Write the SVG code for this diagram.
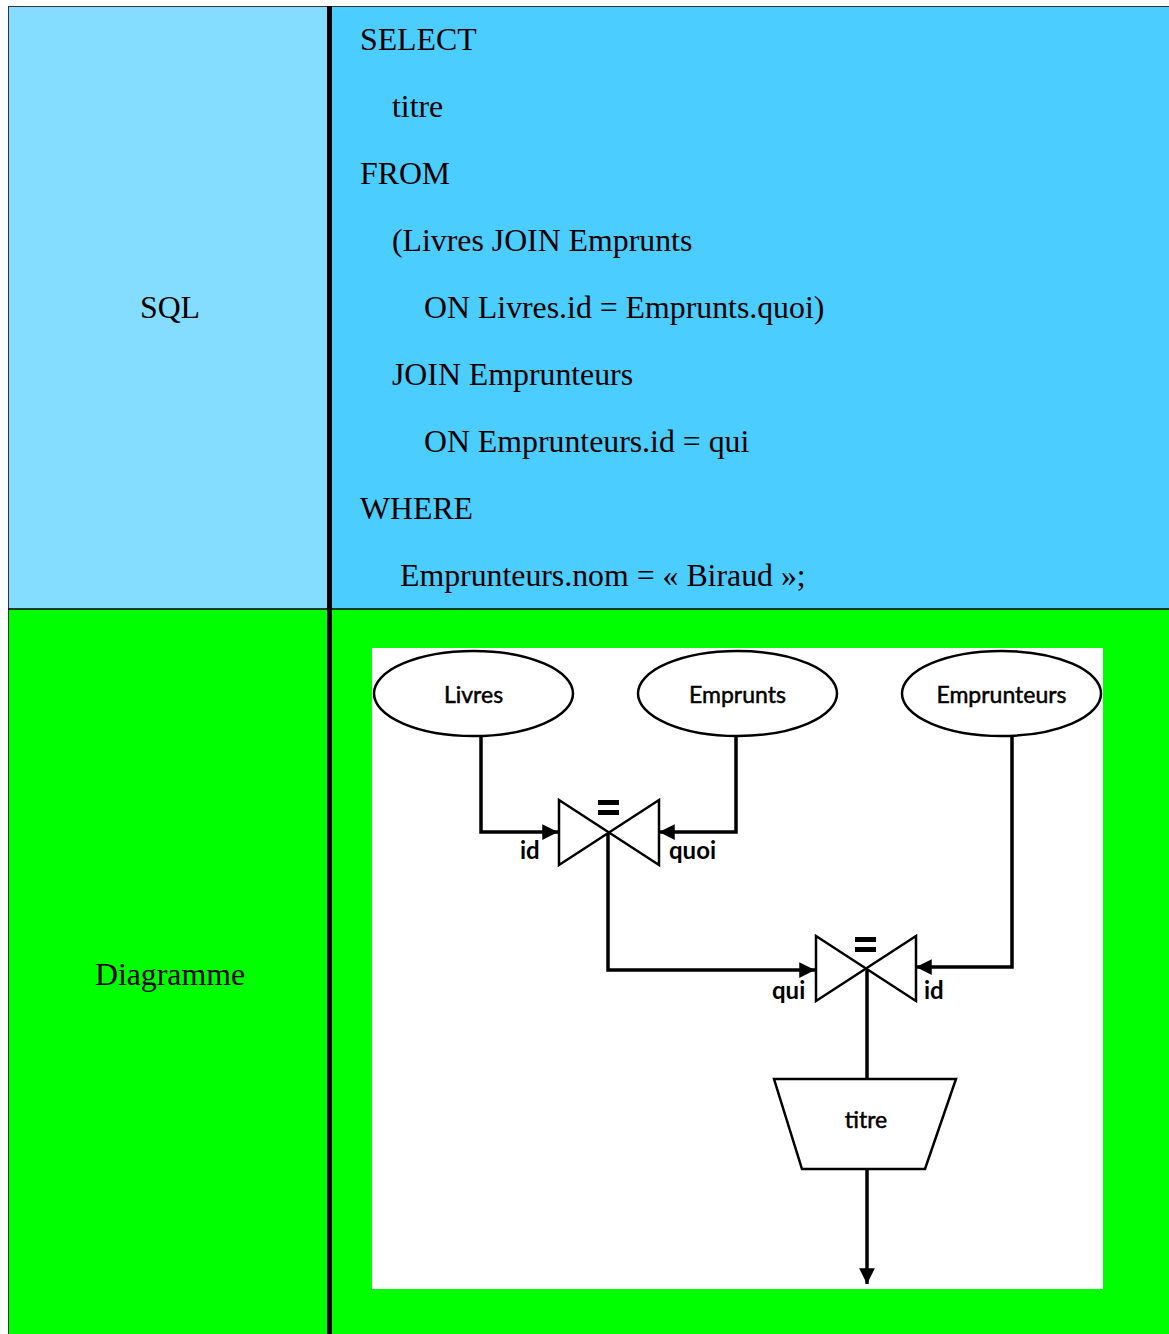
<svg xmlns="http://www.w3.org/2000/svg" width="1169" height="1334" viewBox="0 0 1169 1334">
  <style>
    .sql { font-family: "Liberation Serif", "Times New Roman", serif; font-size: 31.8px; fill: #000; }
    .lbl { font-family: Lato, "Open Sans", sans-serif; font-size: 23px; fill: #000; stroke: #000; stroke-width: 0.5; text-anchor: middle; }
    .port { font-family: Lato, "Open Sans", sans-serif; font-size: 24px; font-weight: bold; fill: #000; }
    .shape { fill: #fff; stroke: #000; stroke-width: 2.5; }
    .wire { fill: none; stroke: #000; stroke-width: 3.5; }
  </style>
  <defs>
    <marker id="arrow" viewBox="0 0 10 10" refX="10" refY="5" markerWidth="4.5" markerHeight="4.5" orient="auto" markerUnits="strokeWidth">
      <path d="M0,0 L10,5 L0,10 z" fill="#000"/>
    </marker>
  </defs>

  <!-- table cells -->
  <g id="table">
    <rect x="8" y="6" width="321" height="603" fill="#84DDFF"/>
    <rect x="329" y="6" width="840" height="603" fill="#4BCDFF"/>
    <rect x="8" y="609" width="321" height="725" fill="#00FF00"/>
    <rect x="329" y="609" width="840" height="725" fill="#00FF00"/>
    <line x1="8.5" y1="6" x2="8.5" y2="1334" stroke="#333" stroke-width="1"/>
    <line x1="8" y1="6.5" x2="1169" y2="6.5" stroke="#333" stroke-width="1"/>
    <line x1="8" y1="609" x2="1169" y2="609" stroke="#000" stroke-width="1.5"/>
    <line x1="329.5" y1="6" x2="329.5" y2="1334" stroke="#000" stroke-width="5"/>
  </g>

  <!-- row headers -->
  <g id="header-sql"><text class="sql" x="170" y="318" text-anchor="middle">SQL</text></g>
  <g id="header-diagram"><text class="sql" x="170" y="985" text-anchor="middle">Diagramme</text></g>

  <!-- query text -->
  <g id="query">
    <text class="sql" x="360" y="50">SELECT</text>
    <text class="sql" x="392" y="117">titre</text>
    <text class="sql" x="360" y="184">FROM</text>
    <text class="sql" x="392" y="251">(Livres JOIN Emprunts</text>
    <text class="sql" x="424" y="318">ON Livres.id = Emprunts.quoi)</text>
    <text class="sql" x="392" y="385">JOIN Emprunteurs</text>
    <text class="sql" x="424" y="452">ON Emprunteurs.id = qui</text>
    <text class="sql" x="360" y="519">WHERE</text>
    <text class="sql" x="400" y="586">Emprunteurs.nom = « Biraud »;</text>
  </g>

  <!-- diagram canvas -->
  <rect x="372" y="648" width="731" height="641" fill="#fff"/>

  <!-- connectors -->
  <g id="connectors">
    <polyline class="wire" points="481,737 481,832 558,832" marker-end="url(#arrow)"/>
    <polyline class="wire" points="736,737 736,832 659,832" marker-end="url(#arrow)"/>
    <polyline class="wire" points="608,832 608,970 815,970" marker-end="url(#arrow)"/>
    <polyline class="wire" points="1012,737 1012,967 916,967" marker-end="url(#arrow)"/>
    <line class="wire" x1="867" y1="968" x2="867" y2="1079"/>
    <line class="wire" x1="867" y1="1169" x2="867" y2="1284" marker-end="url(#arrow)"/>
  </g>

  <!-- tables -->
  <g id="livres">
    <ellipse class="shape" cx="473.5" cy="693.5" rx="99.5" ry="42.5"/>
    <text class="lbl" x="473.5" y="703">Livres</text>
  </g>
  <g id="emprunts">
    <ellipse class="shape" cx="737.5" cy="693.5" rx="99.5" ry="42.5"/>
    <text class="lbl" x="737.5" y="703">Emprunts</text>
  </g>
  <g id="emprunteurs">
    <ellipse class="shape" cx="1001.5" cy="693.5" rx="99.5" ry="42.5"/>
    <text class="lbl" x="1001.5" y="703">Emprunteurs</text>
  </g>

  <!-- first join -->
  <g id="join1">
    <polygon class="shape" points="559,800 559,865 659,800 659,865"/>
    <rect x="598" y="800" width="21" height="5" fill="#000"/>
    <rect x="598" y="810" width="21" height="5" fill="#000"/>
    <text class="port" x="520" y="859">id</text>
    <text class="port" x="669" y="859">quoi</text>
  </g>

  <!-- second join -->
  <g id="join2">
    <polygon class="shape" points="816,936 816,1001 916,936 916,1001"/>
    <rect x="855" y="937" width="21" height="5" fill="#000"/>
    <rect x="855" y="947" width="21" height="5" fill="#000"/>
    <text class="port" x="772" y="999">qui</text>
    <text class="port" x="924" y="999">id</text>
  </g>

  <!-- projection -->
  <g id="projection">
    <polygon class="shape" points="774,1079 956,1079 925,1169 802,1169" stroke-width="3"/>
    <text class="lbl" x="866" y="1128">titre</text>
  </g>
</svg>
